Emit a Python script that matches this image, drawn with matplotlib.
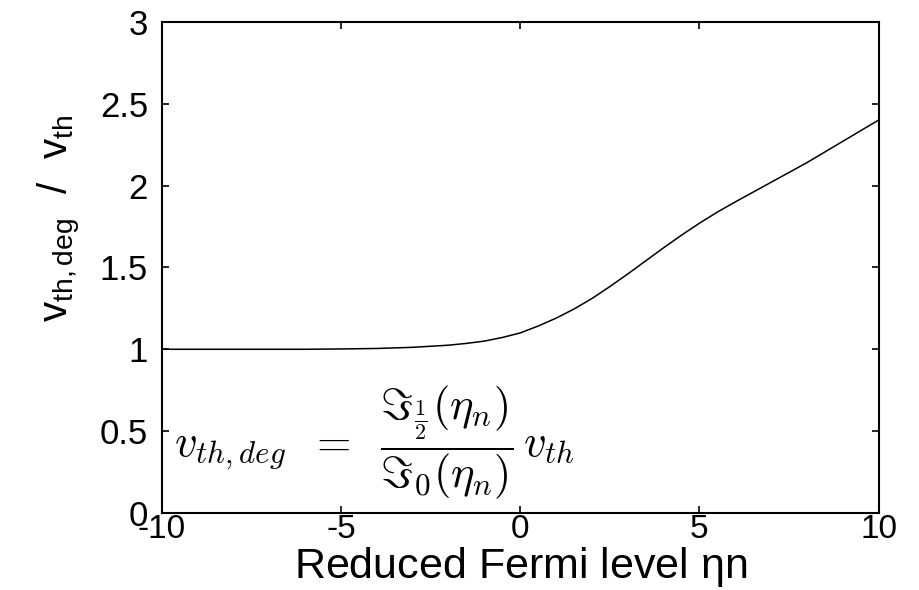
import matplotlib
matplotlib.use("Agg")
import matplotlib.pyplot as plt

# reduced Fermi level eta_n and velocity ratio
eta = [-10, -8, -6, -5, -4, -3, -2, -1.5, -1, -0.5, 0, 0.5, 1, 1.5, 2, 2.5, 3, 3.5, 4,
       4.5, 5, 5.5, 6, 6.5, 7, 7.5, 8, 8.5, 9, 9.5, 10]
ratio = [1.0, 1.0, 1.0, 1.002, 1.005, 1.012, 1.025, 1.036, 1.05, 1.072, 1.10, 1.142, 1.19,
         1.246, 1.31, 1.383, 1.46, 1.54, 1.62, 1.697, 1.77, 1.838, 1.90, 1.96, 2.02,
         2.08, 2.14, 2.205, 2.27, 2.335, 2.40]

xticks = [-10, -5, 0, 5, 10]
yticks = [0, 0.5, 1, 1.5, 2, 2.5, 3]

plt.rcParams['font.family'] = ['Liberation Sans', 'DejaVu Sans']
plt.rcParams['mathtext.fontset'] = 'cm'

fig = plt.figure(figsize=(9.2, 5.9), dpi=100)
ax = fig.add_axes([0.176, 0.1305, 0.779, 0.8325])

ax.plot(eta, ratio, color='black', linewidth=1.1)

ax.set_xlim(-10, 10)
ax.set_ylim(0, 3)
ax.set_xticks(xticks)
ax.set_yticks(yticks)
ax.set_xticklabels(['-10', '-5', '0', '5', '10'])
ax.set_yticklabels(['0', '0.5', '1', '1.5', '2', '2.5', '3'])
ax.tick_params(direction='in', length=5, width=1.2, top=True, right=True)
ax.tick_params(axis='x', labelsize=24, pad=0.5)
ax.tick_params(axis='y', labelsize=25, pad=10)
for s in ax.spines.values():
    s.set_linewidth(1.5)

ax.set_xlabel(r'Reduced Fermi level $\mathregular{\eta}$n', fontsize=31)
ax.xaxis.set_label_coords(0.5, -0.065)
ax.set_ylabel(r'$\mathregular{v_{th,deg}\ \ /\ \ v_{th}}$', fontsize=29)
ax.yaxis.set_label_coords(-0.11, 0.60)

# formula, spread out a little to follow the wide original
ax.text(-9.65, 0.43,
        r'$v_{th,deg}\;\;=\;\;\dfrac{\Im_{\frac{1}{2}}(\eta_n)}{\Im_0(\eta_n)}\,v_{th}$',
        fontsize=32, va='center', ha='left')

fig.savefig('out.png', dpi=100)
